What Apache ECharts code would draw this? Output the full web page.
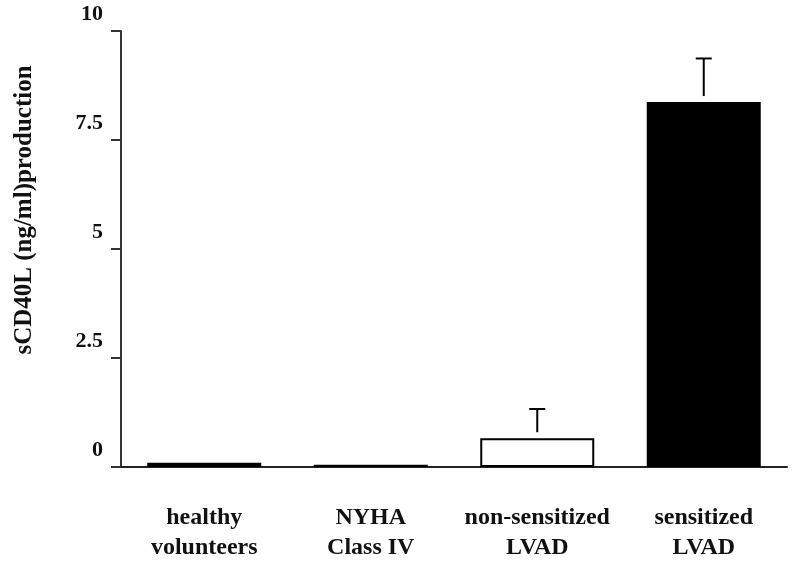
<!DOCTYPE html>
<html>
<head>
<meta charset="utf-8">
<script src="https://cdn.jsdelivr.net/npm/echarts@6/dist/echarts.min.js"></script>
<style>html,body{margin:0;padding:0;background:#fff;}#c{width:800px;height:565px;}</style>
</head>
<body>
<div id="c"></div>
<script>
const categories = ['healthy\nvolunteers', 'NYHA\nClass IV', 'non-sensitized\nLVAD', 'sensitized\nLVAD'];
const values = [0.1, 0.05, 0.66, 8.37];
const errors = [0, 0, 0.67, 1.0];
const yTicks = [0, 2.5, 5, 7.5, 10];
const yAxisTitle = 'sCD40L (ng/ml)production';

const FONT = '"Liberation Serif", "Times New Roman", serif';
const chart = echarts.init(document.getElementById('c'));
chart.setOption({
  animation: false,
  backgroundColor: '#fff',
  grid: { left: 121, right: 13, top: 31, bottom: 98 },
  xAxis: {
    type: 'category',
    data: categories,
    axisLine: { lineStyle: { color: '#222', width: 2 } },
    axisTick: { show: false },
    axisLabel: { interval: 0, margin: 36, fontFamily: FONT, fontWeight: 'bold', fontSize: 24, lineHeight: 30, color: '#111' }
  },
  yAxis: {
    type: 'value',
    min: yTicks[0],
    max: yTicks[yTicks.length - 1],
    interval: 2.5,
    splitLine: { show: false },
    axisLine: { show: true, lineStyle: { color: '#333', width: 2 } },
    axisTick: { show: true, length: 10, lineStyle: { color: '#333', width: 2 } },
    axisLabel: { margin: 18, fontFamily: FONT, fontWeight: 'bold', fontSize: 22, color: '#111', verticalAlign: 'bottom', padding: [0, 0, 6, 0] },
    name: yAxisTitle,
    nameLocation: 'middle',
    nameGap: 84,
    nameTextStyle: { fontFamily: FONT, fontWeight: 'bold', fontSize: 25, color: '#111', padding: [0, 0, 0, 78] }
  },
  series: [
    {
      type: 'bar',
      barWidth: 114,
      data: values.map((v, i) => ({
        value: v,
        itemStyle: i === 2 ? { color: '#fff', borderColor: '#000', borderWidth: 2 } : { color: '#000' }
      })),
      z: 2
    },
    {
      type: 'custom',
      z: 3,
      data: values.map((v, i) => [i, v, errors[i]]),
      renderItem: function (params, api) {
        const i = api.value(0), v = api.value(1), e = api.value(2);
        if (!e) return null;
        const p0 = api.coord([i, v]);
        const p1 = api.coord([i, v + e]);
        const half = 8;
        return {
          type: 'group',
          children: [
            { type: 'line', shape: { x1: p0[0], y1: p0[1] - 6, x2: p1[0], y2: p1[1] }, style: { stroke: '#000', lineWidth: 2 } },
            { type: 'line', shape: { x1: p1[0] - half, y1: p1[1], x2: p1[0] + half, y2: p1[1] }, style: { stroke: '#000', lineWidth: 2 } }
          ]
        };
      }
    }
  ]
});
</script>
</body>
</html>
